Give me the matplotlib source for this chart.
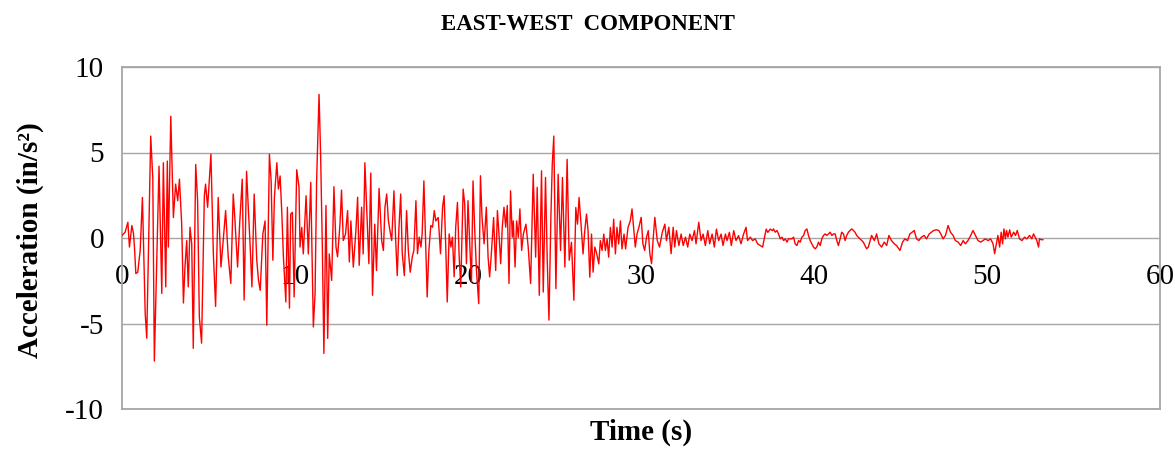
import matplotlib

matplotlib.use("Agg")
import matplotlib.pyplot as plt
import numpy as np

plt.rcParams["font.family"] = ["Liberation Serif", "DejaVu Serif"]
plt.rcParams["axes.unicode_minus"] = False

# accelerogram, time (s) / acceleration (in/s^2)
time_strong = [
    0.0, 0.18, 0.34, 0.43, 0.57, 0.66, 0.72, 0.80, 0.91, 1.05, 1.18, 1.34, 1.43,
    1.66, 1.78, 1.87, 2.14, 2.30, 2.39, 2.53, 2.62, 2.68, 2.82, 2.97, 3.10, 3.22,
    3.32, 3.45, 3.55, 3.64, 3.74, 3.83, 3.93, 4.03, 4.12, 4.26, 4.37, 4.47, 4.60,
    4.76, 4.83, 4.95, 5.14, 5.28, 5.41, 5.56, 5.72, 5.85, 5.99, 6.14, 6.29, 6.43,
    6.52, 6.68, 6.81, 6.95, 7.06, 7.20,
    7.41, 7.51, 7.64, 7.79, 7.89, 7.99, 8.14, 8.27, 8.37, 8.52, 8.62, 8.72, 8.81,
    8.95, 9.04, 9.14, 9.24, 9.33, 9.47, 9.56, 9.68, 9.75, 9.85, 9.95, 10.10,
    10.23, 10.29, 10.39, 10.48, 10.64, 10.77, 10.91, 11.06, 11.16, 11.25, 11.39,
    11.48, 11.58, 11.67, 11.79, 11.89, 11.98, 12.12, 12.25, 12.37, 12.46, 12.60,
    12.69, 12.79, 12.92, 13.04, 13.14, 13.23, 13.37, 13.52, 13.62, 13.71, 13.85,
    13.94, 14.04, 14.17, 14.27, 14.38, 14.48, 14.61, 14.71, 14.86,
    15.01, 15.11, 15.20, 15.30, 15.40, 15.49, 15.59, 15.72, 15.82, 15.91, 16.01,
    16.11, 16.20, 16.32, 16.45, 16.55, 16.66, 16.78, 16.87, 16.99, 17.08, 17.18,
    17.28, 17.35, 17.45, 17.55, 17.64, 17.74, 17.85, 17.95, 18.05, 18.14, 18.28,
    18.41, 18.53, 18.62, 18.72, 18.80, 18.91, 19.01, 19.10, 19.20, 19.29, 19.39,
    19.49, 19.58, 19.72, 19.81, 19.91, 20.00, 20.10, 20.20, 20.29, 20.39, 20.49,
    20.62, 20.72, 20.81, 20.93, 21.06, 21.16, 21.25, 21.35, 21.48, 21.60, 21.70,
    21.79, 21.89, 21.98, 22.08, 22.18, 22.27, 22.37, 22.46, 22.56,
    22.62, 22.72, 22.81, 22.91, 23.00, 23.10, 23.20, 23.35, 23.48, 23.62, 23.77,
    23.91, 24.00, 24.12, 24.25, 24.35, 24.48, 24.58, 24.68, 24.79, 24.87, 24.96,
    25.08, 25.21, 25.35, 25.46, 25.60, 25.73, 25.85, 25.98, 26.12, 26.23, 26.33,
    26.42, 26.52, 26.65, 26.75, 26.85, 26.94, 27.04, 27.14, 27.23, 27.33, 27.42,
    27.56, 27.65, 27.75, 27.85, 27.94, 28.04, 28.13, 28.23, 28.33, 28.42, 28.52,
    28.61, 28.71, 28.81, 28.90, 29.02, 29.11, 29.25, 29.38, 29.48, 29.57, 29.67,
    29.77,
]
accel_strong = [
    0.15, 0.34, 0.92, -0.53, 0.73, 0.30, -0.53, -2.08, -2.0, -0.73, 2.37, -4.4, -5.86,
    5.96, 3.5, -7.2, 4.2, -3.24, 4.4, -2.86, 4.5, -0.53, 7.12, 1.2, 3.15, 2.18,
    3.44, 0.82, -3.8, -1.7, -0.15, -2.86, 0.63, -0.34, -6.45, 4.3, 2.18, -4.6, -6.15,
    2.47, 3.15, 1.8, 4.9, -0.92, -4.0, 2.37, -1.7, -0.15, 1.6, -1.1, -2.66, 2.57,
    1.2, -1.7, 1.0, 3.44, -3.63, 3.9,
    -0.53, -2.86, 2.57, -1.3, -2.48, -3.06, 0.23, 1.0, -5.1, 4.9, 3.35, -1.3, 2.38,
    4.4, 2.86, 3.63, 1.4, -1.1, -3.74, 1.8, -4.1, 1.4, 1.5, -3.45, 3.99,
    3.0, -0.53, 0.62, -0.93, 2.47, -0.93, 3.25, -5.2, -3.26, 3.35, 8.4,
    4.9, -0.53, -6.75, 1.9, -5.87, -0.93, -2.48, 3.0, -0.53, -1.1, 0.81,
    2.8, -0.15, 0.23, 1.6, -1.4, 1.0, -1.7, 0.43, 2.38, -1.6, 1.8,
    -0.93, 4.4, 1.0, -1.5, 3.8, -3.35, 0.81, -1.9, 2.9,
    -0.15, -0.73, 1.8, 2.57, 1.0, 0.43, -0.15, 2.76, -0.15, -2.2, 0.63,
    2.57, -0.92, -2.2, 1.6, -0.73, -2.0, -1.1, -0.73, 2.18, -0.92, 0.05,
    -0.53, 0.24, 3.34, -0.34, -3.45, -0.73, 0.73, 0.63, 1.6, 1.0, 1.2,
    -0.92, 1.8, 2.47, -0.73, -3.74, 0.24, -0.53, 0.05, -2.27, 0.63, 2.08,
    -1.1, -2.86, 2.86, 1.99, -1.5, 2.18, -0.34, -2.57, 3.34, 0.43, -1.9,
    -3.84, 3.64, 1.2, -0.34, 1.8, -1.1, -2.27, -0.92, 1.2, -1.9, 1.6,
    0.24, -1.5, 0.63, 1.8, 0.63, 1.9, -2.66, 2.76, 0.05,
    1.0, -1.7, 1.0, 0.04, 1.7, -0.73, 0.23, 0.81, -0.53, -2.66, 3.73,
    -1.12, 2.96, -3.35, 3.93, -3.16, 3.54, -1.3, -4.8, 1.2, 4.3, 5.96,
    -2.96, 3.73, -0.73, 3.54, -1.7, 4.6, -1.3, -0.25, -3.64, 1.78, 0.81,
    2.37, 1.0, -0.93, 0.43, 1.4, 0.43, -2.29, 0.23, -2.0, -0.53, -0.83,
    -1.51, -0.15, -0.73, 0.23, -0.73, -0.06, -1.12, 0.62, -0.53, 1.1, -0.93,
    0.62, -0.35, 1.0, -0.64, 0.23, -0.64, 0.62, 1.0, 1.7, 0.62, -0.53,
    0.23,
]

time_tail = [
    29.88, 30.01, 30.11, 30.21, 30.32, 30.42, 30.51, 30.61, 30.71, 30.80, 30.94,
    31.07, 31.23, 31.38, 31.47, 31.61, 31.74, 31.86, 31.95, 32.05, 32.19, 32.32,
    32.44, 32.57, 32.70, 32.82, 32.95, 33.09, 33.18, 33.34, 33.47, 33.59, 33.72,
    33.86, 33.97, 34.11, 34.24, 34.36, 34.49, 34.63, 34.74, 34.88, 34.97, 35.11,
    35.22, 35.36, 35.49, 35.64, 35.78, 35.93, 36.07, 36.16, 36.32, 36.45, 36.60,
    36.74, 36.89, 37.03, 37.14, 37.24, 37.33, 37.47, 37.60,
    37.66, 37.76, 37.86, 37.95, 38.05, 38.15, 38.24, 38.34, 38.44, 38.53, 38.72,
    38.82, 38.91, 39.01, 39.11, 39.20, 39.30, 39.40, 39.49, 39.59, 39.68, 39.78,
    39.87, 39.97, 40.07, 40.16, 40.26, 40.36, 40.45, 40.55, 40.64, 40.74, 40.84,
    40.93, 41.03, 41.13, 41.22, 41.32, 41.41, 41.51, 41.60, 41.70, 41.80, 41.89,
    41.99, 42.08, 42.18, 42.28, 42.37, 42.47, 42.56, 42.66, 42.76, 42.85, 42.95,
    43.04,
    43.14, 43.33, 43.49, 43.62, 43.75, 43.91, 44.06, 44.20, 44.33, 44.48, 44.64,
    44.77, 44.97, 45.12, 45.25, 45.41, 45.54, 45.68, 45.79, 45.93, 46.06, 46.21,
    46.37, 46.50, 46.66, 46.79, 46.92, 47.08, 47.21, 47.33, 47.46, 47.60, 47.75,
    47.89, 48.04, 48.17, 48.33, 48.48, 48.62, 48.75, 48.90, 49.06, 49.19, 49.33,
    49.48, 49.63, 49.77, 49.90, 50.06, 50.21, 50.35, 50.44, 50.54, 50.63, 50.73,
    50.82, 50.90, 50.98, 51.06, 51.13, 51.21, 51.31, 51.40, 51.54, 51.65, 51.75,
    51.88, 52.02, 52.17, 52.30, 52.46, 52.59, 52.69, 52.78, 52.88, 52.98, 53.03,
    53.13, 53.23,
]
accel_tail = [
    0.63, 1.21, -0.34, -0.73, 0.05, 0.43, -0.92, -1.5, 0.05, 1.21, -0.15,
    -0.53, 0.33, 0.81, -0.15, 0.63, -0.92, 0.63, -0.53, 0.43, -0.44, 0.23,
    -0.44, 0.05, -0.53, 0.23, -0.15, 0.43, -0.34, 0.92, -0.15, 0.23, -0.44,
    0.43, -0.34, 0.23, -0.53, 0.52, -0.15, 0.23, -0.44, 0.23, -0.15, 0.33,
    -0.44, 0.43, -0.15, 0.14, -0.34, 0.23, 0.63, -0.15, 0.05, -0.15, -0.05,
    -0.34, -0.44, -0.53, 0.05, 0.52, 0.33, 0.52, 0.43,
    0.53, 0.34, 0.44, 0.24, -0.05, 0.05, -0.15, -0.05, -0.24, -0.05, -0.05,
    0.05, -0.34, -0.44, -0.15, -0.24, 0.05, 0.15, 0.44, 0.53, 0.15, -0.15,
    -0.34, -0.53, -0.63, -0.53, -0.24, -0.44, -0.05, 0.15, 0.24, 0.15, 0.24,
    0.34, 0.15, 0.24, 0.24, -0.15, -0.44, -0.05, 0.34, 0.24, -0.15, 0.15,
    0.34, 0.44, 0.53, 0.44, 0.34, 0.15, 0.05, -0.05, -0.15, -0.24, -0.44,
    -0.63,
    -0.53, 0.15, -0.15, 0.24, -0.34, -0.53, -0.24, -0.44, 0.15, -0.15, -0.34,
    -0.44, -0.73, -0.24, -0.05, -0.15, 0.24, 0.34, 0.44, -0.05, -0.15, 0.05,
    0.15, -0.05, 0.24, 0.34, 0.44, 0.48, 0.44, 0.24, -0.05, 0.15, 0.73,
    0.34, 0.15, -0.15, -0.24, -0.44, -0.15, -0.34, -0.15, 0.15, 0.44, 0.15,
    -0.15, -0.24, -0.15, -0.05, -0.15, -0.05, -0.34, -0.92, -0.34, 0.15, -0.53,
    0.34, -0.34, 0.53, -0.05, 0.44, 0.05, 0.48, 0.05, 0.34, 0.15, 0.44,
    -0.05, -0.15, 0.05, -0.05, 0.15, -0.05, 0.24, 0.05, -0.15, -0.53, -0.05,
    -0.1, -0.1,
]

x_ticks = [0, 10, 20, 30, 40, 50, 60]
y_ticks = [-10, -5, 0, 5, 10]

time_s = np.array(time_strong + time_tail)
accel = np.array(accel_strong + accel_tail)

GRID = "#A6A6A6"

fig = plt.figure(figsize=(11.75, 4.51), dpi=100)
ax = fig.add_axes((122 / 1175, 42 / 451, 1038 / 1175, 342 / 451))

ax.plot(time_s, accel, color="#FF0000", linewidth=1.0, zorder=3)

ax.set_xlim(0, 60)
ax.set_ylim(-10, 10)
ax.set_yticks(y_ticks)
ax.set_xticks([])
ax.yaxis.grid(True, color=GRID, linewidth=1.0)
ax.set_axisbelow(True)
for side in ax.spines.values():
    side.set_color(GRID)
    side.set_linewidth(1.3)
ax.tick_params(axis="y", length=0, pad=13, labelsize=21)

# x tick labels hang under the zero line
sec = ax.secondary_xaxis(0.5)
sec.set_xticks(x_ticks)
sec.xaxis.set_ticks_position("bottom")
for side in sec.spines.values():
    side.set_visible(False)
sec.tick_params(axis="x", length=0, pad=19, labelsize=21,
                labelbottom=True, labeltop=False)

fig.text(0.5, 1 - 25 / 451, "EAST-WEST  COMPONENT", ha="center", va="center",
         fontsize=16.5, fontweight="bold")
fig.text(641 / 1175, 1 - 432 / 451, "Time (s)", ha="center", va="center",
         fontsize=21, fontweight="bold")
fig.text(30 / 1175, 1 - 240 / 451, "Acceleration (in/s²)", ha="center",
         va="center", rotation=90, fontsize=21, fontweight="bold")

fig.savefig("out.png", dpi=100)
